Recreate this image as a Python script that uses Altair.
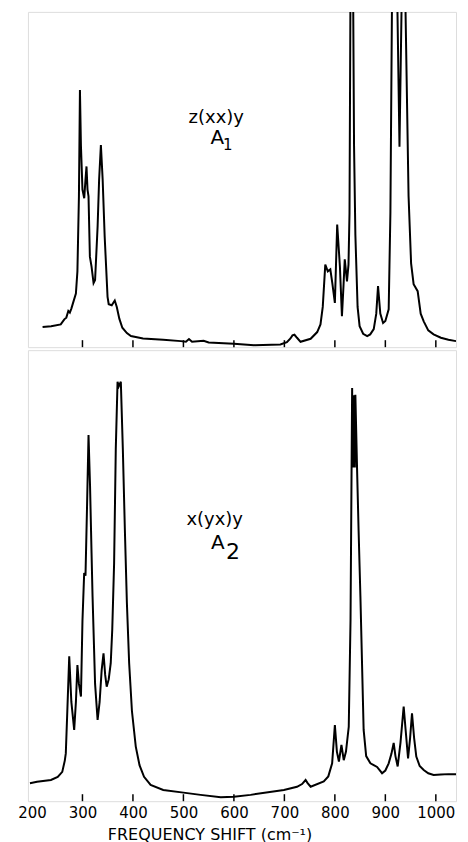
import altair as alt
import pandas as pd

# ---- data ----
top_freq = [221, 238, 257, 264, 268, 272, 275, 278, 282, 287, 290, 293, 295, 297, 300,
            303.5, 306, 308, 310, 312, 314.7, 318, 322, 325, 330, 333, 336.5, 340, 344,
            349.7, 352, 358, 364, 368, 373, 379, 388, 396, 420, 460, 495, 505, 511, 517,
            540, 550, 600, 640, 692, 705, 712, 716, 720, 725, 732, 752, 765, 771.5, 776,
            781, 786, 791, 795, 800, 804.6, 810, 814, 817, 819.6, 824, 827, 829, 831, 833,
            836, 838, 840.6, 845, 849, 856, 864, 870, 877, 882, 885.5, 890, 895.5, 900,
            906.6, 910, 913, 918, 924, 928, 932, 936, 940, 946, 951, 956, 964, 970, 976,
            985, 995.5, 1010, 1025, 1040]
top_int = [6.0, 6.25, 6.8, 8.3, 8.8, 10.8, 10.3, 11.5, 13.5, 16, 22.6, 45, 76.7, 60, 47,
           44.4, 50, 53.9, 47, 45, 27, 24, 19.1, 20, 36, 50, 60.3, 50, 33,
           15, 12.8, 12.5, 13.9, 12, 8.5, 5.8, 4.2, 3.3, 2.6, 2.2, 1.8, 1.6, 2.4, 1.6,
           1.9, 1.4, 1.0, 0.6, 0.8, 1.5, 2.6, 3.5, 3.7, 2.8, 1.6, 2.5, 4.5, 6.8, 12,
           24.6, 22.6, 23.2, 19, 13.2, 36.6, 24, 9.2, 18, 26.2, 19.6, 24.6, 40, 110, 150,
           110, 60, 33.6, 12, 6.25, 4, 3.3, 3.8, 5.4, 10, 18.2, 10, 7.2, 7.8,
           11.3, 40, 100, 160, 100, 59.8, 100, 160, 100, 45, 25, 18.8, 16.7, 10, 7.7,
           5, 3.8, 2.8, 2.2, 1.8]

bot_freq = [196, 210, 237.6, 251, 260, 265, 267, 270, 273.8, 278, 283.6, 287, 290, 293,
            297, 300, 303.4, 306, 309, 312, 315, 318, 320, 325, 330, 334, 338, 341.7, 345,
            348, 352, 356, 359, 362.7, 366, 369.5, 372, 376, 380, 384, 388, 392.5, 398,
            405.6, 413, 422, 435, 460, 500, 534, 574, 600, 633, 699, 725, 735, 742, 746,
            752, 778, 787, 794.6, 800, 804, 808, 813, 817.6, 822, 827.5, 831, 834.2, 835.3,
            836.4, 837.5, 838.6, 839.6, 840.6, 844, 847, 850.6, 857, 862, 870.4, 877, 883.6,
            893.5, 900, 906.6, 912, 916.5, 920, 924.4, 930, 936.3, 940, 945, 949, 952.8,
            957, 961.3, 968, 976, 985, 995.6, 1010, 1025, 1040]
bot_int = [4.0, 4.3, 4.7, 5.4, 6.5, 9, 10.6, 20, 32.1, 22, 15.8, 22, 30.2, 26,
           23.2, 40, 50.6, 50, 65, 81.2, 70, 55, 45.4, 26, 18, 22, 29, 32.8, 28,
           25.4, 27, 30.6, 38, 52.8, 78, 93, 92, 93, 78, 60.2, 44, 30.6, 20,
           12.1, 8, 5.4, 3.6, 2.5, 1.9, 1.4, 0.9, 1.0, 1.4, 2.5, 3.2, 3.8, 4.7, 4.0,
           3.2, 4.4, 5.5, 8.4, 16.9, 11, 8.8, 12.5, 9.1, 11, 16.5, 40, 91.6, 74,
           90, 74, 90, 74, 90.1, 73.5, 60, 45.4, 15.8, 10, 8.4, 8.0, 7.6,
           6.2, 6.8, 8.4, 10.5, 12.9, 10, 7.7, 13, 21, 16, 9.5, 14, 19.5,
           14, 9.9, 7.8, 6.9, 6.2, 5.8, 5.9, 6.0, 6.0]

tick_labels = [200, 300, 400, 500, 600, 700, 800, 900, 1000]
tick_marks = [300, 400, 500, 600, 700, 800, 900, 1000]

top_df = pd.DataFrame({"freq": top_freq, "intensity": top_int})
bot_df = pd.DataFrame({"freq": bot_freq, "intensity": bot_int})
tick_df = pd.DataFrame({"v": tick_marks})

FONT = "DejaVu Sans"
W = 429
H_TOP = 336
H_BOT = 452
X_DOMAIN = [192, 1040]
Y_DOMAIN = [0, 100]


def label(text, x, y, size):
    return alt.Chart(pd.DataFrame({"t": [text]})).mark_text(
        font=FONT, fontSize=size, color="black", align="center", baseline="alphabetic"
    ).encode(x=alt.datum(x), y=alt.datum(y), text="t:N")


def panel(df, height, show_axis, texts):
    if show_axis:
        xaxis = alt.Axis(
            values=tick_labels, format="d", ticks=False, domain=False, grid=False,
            labelFont=FONT, labelFontSize=15, labelColor="black", labelPadding=4,
            labelFlush=False,
            title="FREQUENCY SHIFT (cm⁻¹)", titleFont=FONT, titleFontSize=16,
            titleFontWeight="normal", titleColor="black", titleX=182, titleY=38,
            titleAlign="center", titleBaseline="alphabetic",
        )
    else:
        xaxis = None
    x = alt.X("freq:Q", scale=alt.Scale(domain=X_DOMAIN, nice=False, zero=False), axis=xaxis)
    y = alt.Y("intensity:Q", scale=alt.Scale(domain=Y_DOMAIN, nice=False), axis=None)
    line = alt.Chart(df).mark_line(color="black", strokeWidth=2, clip=True).encode(x=x, y=y)
    ticks = alt.Chart(tick_df).mark_rule(color="black", strokeWidth=1.5).encode(
        x=alt.X("v:Q"), y=alt.value(height), y2=alt.value(height - 7)
    )
    layers = [line, ticks] + [label(*t) for t in texts]
    return alt.layer(*layers).properties(width=W, height=height)


top = panel(top_df, H_TOP, False, [
    ("z(xx)y", 565, 67.0, 18),
    ("A", 567, 60.7, 20),
    ("1", 588, 58.9, 15),
])
bottom = panel(bot_df, H_BOT, True, [
    ("x(yx)y", 562, 61.3, 18),
    ("A", 568, 56.0, 20),
    ("2", 598, 53.8, 22),
])

chart = alt.vconcat(top, bottom, spacing=0).properties(
    padding={"left": 17, "top": 10, "right": 11, "bottom": 0}
).configure_view(stroke="black", strokeWidth=1.5).configure(background="white")

chart.save("out.html", embed_options={"renderer": "svg", "actions": False})
